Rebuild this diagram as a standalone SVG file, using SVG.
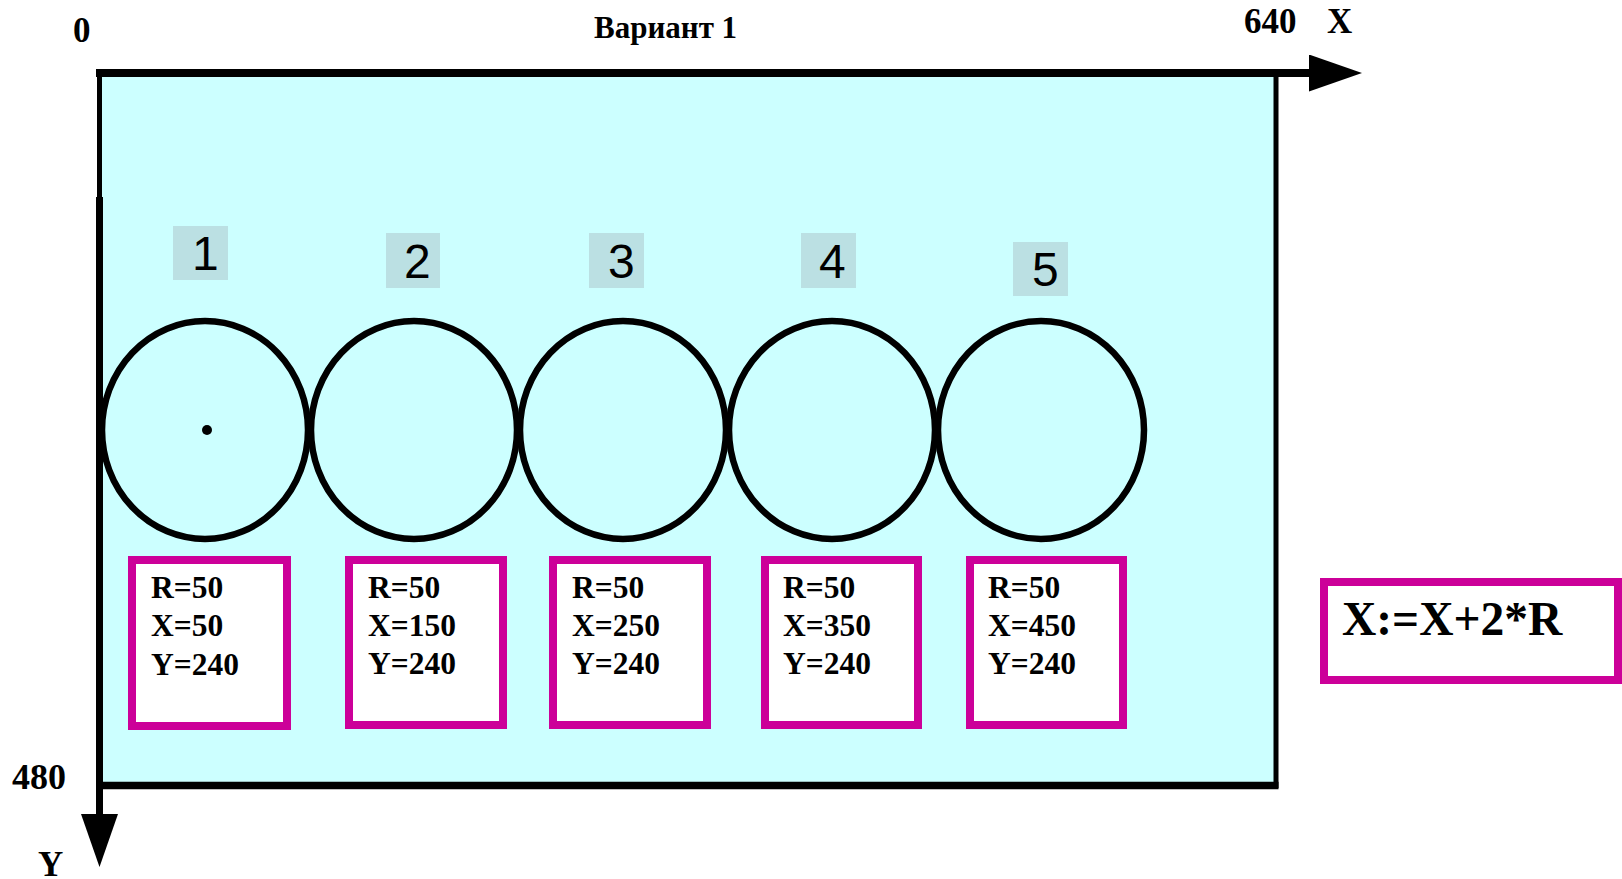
<svg xmlns="http://www.w3.org/2000/svg" width="1622" height="879" viewBox="0 0 1622 879">
  <style>
    .serif { font-family: "Liberation Serif", "Times New Roman", serif; font-weight: bold; fill: #000; }
    .axis-label { font-size: 35px; }
    .title { font-size: 31px; }
    .num { font-family: "Liberation Sans", Arial, sans-serif; font-size: 48px; fill: #000; }
    .tag { fill: #bbe0e3; }
    .ring { fill: none; stroke: #000; stroke-width: 6.5; }
    .info { fill: #fff; stroke: #cc0099; stroke-width: 8; }
    .info-text { font-size: 31.5px; }
    .axis { stroke: #000; fill: none; }
  </style>
  <defs>
    <marker id="arrow" markerUnits="userSpaceOnUse" viewBox="0 0 53 37" refX="1" refY="18.5" markerWidth="53" markerHeight="37" orient="auto">
      <path d="M0,0 L53,18.5 L0,37 Z" fill="#000"/>
    </marker>
  </defs>

  <rect width="1622" height="879" fill="#fff"/>

  <!-- screen area -->
  <rect id="screen" x="99.5" y="73" width="1176.5" height="712.5" fill="#ccffff" stroke="#000" stroke-width="5"/>

  <!-- coordinate axes -->
  <g id="connectors">
    <line class="axis" x1="96" y1="73" x2="1310" y2="73" stroke-width="8" marker-end="url(#arrow)"/>
    <line class="axis" x1="99.5" y1="197" x2="99.5" y2="815" stroke-width="7" marker-end="url(#arrow)"/>
    <line class="axis" x1="99" y1="785.5" x2="1278.5" y2="785.5" stroke-width="7.5"/>
  </g>

  <g id="axis-labels">
    <text class="serif axis-label" x="73" y="42">0</text>
    <text class="serif axis-label" x="1244" y="33">640</text>
    <text class="serif axis-label" x="1327" y="33">X</text>
    <text class="serif" x="12" y="789" font-size="36">480</text>
    <text class="serif" x="38" y="876" font-size="35">Y</text>
  </g>

  <text id="title" class="serif title" x="594" y="38">Вариант 1</text>

  <!-- circle 1 -->
  <g id="circle1">
    <rect class="tag" x="173" y="226" width="55" height="54"/>
    <text class="num" x="192" y="270">1</text>
    <ellipse class="ring" cx="205" cy="430" rx="103" ry="109"/>
    <circle cx="207" cy="430" r="5" fill="#000"/>
    <rect class="info" x="132" y="560" width="155" height="166"/>
    <text class="serif info-text" x="151"><tspan x="151" y="598">R=50</tspan><tspan x="151" y="636">X=50</tspan><tspan x="151" y="675">Y=240</tspan></text>
  </g>

  <!-- circle 2 -->
  <g id="circle2">
    <rect class="tag" x="386" y="233" width="54" height="55"/>
    <text class="num" x="404" y="278">2</text>
    <ellipse class="ring" cx="414" cy="430" rx="103" ry="109"/>
    <rect class="info" x="349" y="560" width="154" height="165"/>
    <text class="serif info-text" x="368"><tspan x="368" y="598">R=50</tspan><tspan x="368" y="636">X=150</tspan><tspan x="368" y="674">Y=240</tspan></text>
  </g>

  <!-- circle 3 -->
  <g id="circle3">
    <rect class="tag" x="589" y="233" width="55" height="55"/>
    <text class="num" x="608" y="278">3</text>
    <ellipse class="ring" cx="623" cy="430" rx="103" ry="109"/>
    <rect class="info" x="553" y="560" width="154" height="165"/>
    <text class="serif info-text" x="572"><tspan x="572" y="598">R=50</tspan><tspan x="572" y="636">X=250</tspan><tspan x="572" y="674">Y=240</tspan></text>
  </g>

  <!-- circle 4 -->
  <g id="circle4">
    <rect class="tag" x="801" y="233" width="55" height="55"/>
    <text class="num" x="819" y="278">4</text>
    <ellipse class="ring" cx="832" cy="430" rx="103" ry="109"/>
    <rect class="info" x="765" y="560" width="153" height="165"/>
    <text class="serif info-text" x="783"><tspan x="783" y="598">R=50</tspan><tspan x="783" y="636">X=350</tspan><tspan x="783" y="674">Y=240</tspan></text>
  </g>

  <!-- circle 5 -->
  <g id="circle5">
    <rect class="tag" x="1013" y="242" width="55" height="54"/>
    <text class="num" x="1032" y="286">5</text>
    <ellipse class="ring" cx="1041" cy="430" rx="103" ry="109"/>
    <rect class="info" x="970" y="560" width="153" height="165"/>
    <text class="serif info-text" x="988"><tspan x="988" y="598">R=50</tspan><tspan x="988" y="636">X=450</tspan><tspan x="988" y="674">Y=240</tspan></text>
  </g>

  <!-- step formula -->
  <g id="formula">
    <rect class="info" x="1324" y="582" width="294" height="98"/>
    <text class="serif" x="1342" y="635" font-size="47.5">X:=X+2*R</text>
  </g>
</svg>
